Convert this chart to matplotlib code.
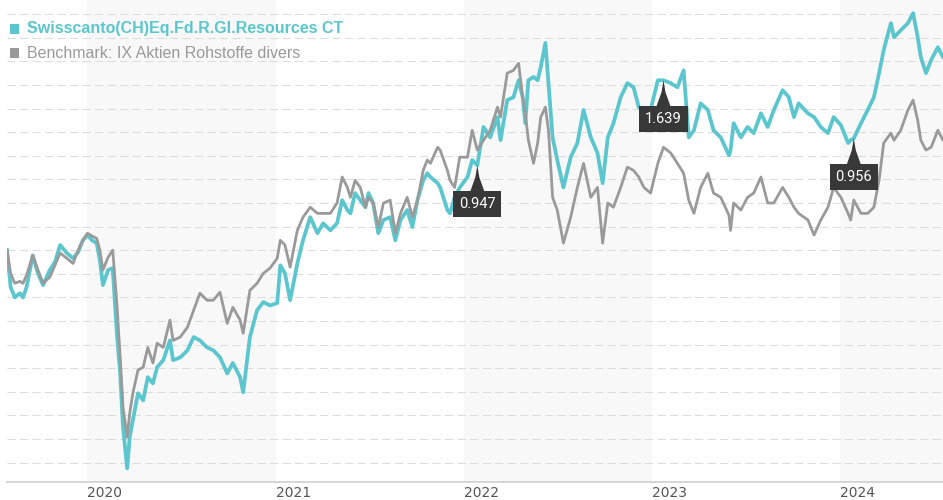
# fund vs benchmark: indexed performance, Jul 2019 - Jul 2024
# -----------------------------------------------------------------------------
import matplotlib
matplotlib.use('Agg')
import matplotlib.pyplot as plt
import matplotlib.transforms as mtransforms
from matplotlib.patches import Polygon, Rectangle
import numpy as np
import pandas as pd

# -----------------------------------------------------------------------------
## --- section_a: data (start = 100) ---
fund_name = 'Swisscanto(CH)Eq.Fd.R.Gl.Resources CT'
bench_name = 'Benchmark: IX Aktien Rohstoffe divers'

dates = [
    '2019-07-30', '2019-08-06', '2019-08-14', '2019-08-24', '2019-08-30', '2019-09-06',
    '2019-09-18', '2019-09-28', '2019-10-08', '2019-10-21', '2019-10-31', '2019-11-10',
    '2019-11-23', '2019-12-05', '2019-12-15', '2019-12-24', '2020-01-02', '2020-01-11',
    '2020-01-20', '2020-01-26', '2020-02-01', '2020-02-11', '2020-02-20', '2020-02-28',
    '2020-03-05', '2020-03-11', '2020-03-19', '2020-03-24', '2020-03-30', '2020-04-09',
    '2020-04-19', '2020-04-28', '2020-05-08', '2020-05-16', '2020-05-28', '2020-06-10',
    '2020-06-16', '2020-06-30', '2020-07-14', '2020-07-26', '2020-08-07', '2020-08-21',
    '2020-09-02', '2020-09-15', '2020-09-29', '2020-10-10', '2020-10-24', '2020-10-30',
    '2020-11-12', '2020-11-26', '2020-12-08', '2020-12-21', '2021-01-04', '2021-01-10',
    '2021-01-19', '2021-01-29', '2021-02-12', '2021-02-23', '2021-03-09', '2021-03-23',
    '2021-04-03', '2021-04-17', '2021-04-30', '2021-05-10', '2021-05-20', '2021-05-26',
    '2021-06-04', '2021-06-14', '2021-06-24', '2021-06-30', '2021-07-09', '2021-07-19',
    '2021-07-29', '2021-08-11', '2021-08-21', '2021-08-31', '2021-09-13', '2021-09-23',
    '2021-10-03', '2021-10-14', '2021-10-22', '2021-10-28', '2021-11-11', '2021-11-16',
    '2021-11-30', '2021-12-05', '2021-12-14', '2021-12-24', '2022-01-08', '2022-01-17',
    '2022-01-27', '2022-02-08', '2022-02-21', '2022-03-07', '2022-03-13', '2022-03-26',
    '2022-04-07', '2022-04-17', '2022-04-25', '2022-04-30', '2022-05-06', '2022-05-16',
    '2022-05-24', '2022-05-30', '2022-06-08', '2022-06-14', '2022-06-22', '2022-07-01',
    '2022-07-13', '2022-07-27', '2022-08-09', '2022-08-21', '2022-09-04', '2022-09-17',
    '2022-09-27', '2022-10-07', '2022-10-18', '2022-11-01', '2022-11-14', '2022-11-26',
    '2022-12-06', '2022-12-16', '2022-12-29', '2023-01-12', '2023-01-23', '2023-02-06',
    '2023-02-19', '2023-03-03', '2023-03-13', '2023-03-23', '2023-04-05', '2023-04-19',
    '2023-04-30', '2023-05-14', '2023-05-30', '2023-06-02', '2023-06-08', '2023-06-22',
    '2023-07-05', '2023-07-17', '2023-07-31', '2023-08-13', '2023-08-25', '2023-09-11',
    '2023-09-23', '2023-10-03', '2023-10-12', '2023-10-30', '2023-11-11', '2023-11-24',
    '2023-12-08', '2023-12-19', '2024-01-02', '2024-01-16', '2024-01-21', '2024-01-27',
    '2024-02-10', '2024-02-23', '2024-03-06', '2024-03-16', '2024-03-25', '2024-04-08',
    '2024-04-14', '2024-04-27', '2024-05-11', '2024-05-21', '2024-05-30', '2024-06-05',
    '2024-06-15', '2024-06-25', '2024-07-08', '2024-07-18']

fund = [
    100.0, 92.2, 90.0, 90.9, 90.0, 92.2, 98.9, 95.1, 92.6, 95.8, 97.5, 101.1,
    99.4, 98.3, 99.6, 102.1, 103.2, 102.1, 101.5, 97.9, 92.6, 95.8, 96.2, 82.4,
    74.6, 62.5, 53.8, 60.4, 64.0, 69.7, 68.2, 73.1, 71.8, 75.2, 76.7, 80.9,
    76.7, 77.3, 78.8, 81.6, 80.9, 79.4, 78.8, 77.3, 73.9, 76.1, 73.1, 69.9,
    81.6, 87.3, 89.0, 88.3, 88.8, 96.8, 95.1, 89.4, 97.2, 102.1, 107.0, 103.6,
    105.7, 104.2, 105.7, 110.6, 108.5, 107.8, 112.1, 110.6, 109.1, 112.1, 110.0, 103.6,
    106.4, 107.0, 102.1, 106.4, 108.5, 104.9, 110.6, 114.8, 116.3, 115.5, 114.2, 113.3,
    108.5, 107.8, 111.2, 113.3, 115.5, 119.1, 118.0, 126.1, 123.9, 128.2, 123.3, 131.8,
    132.4, 136.0, 132.4, 126.9, 136.0, 136.7, 136.0, 138.8, 143.9, 135.4, 123.9, 119.1,
    113.3, 119.7, 122.7, 129.7, 123.9, 120.6, 114.2, 123.9, 126.9, 132.4, 135.4, 134.5,
    130.3, 129.7, 129.7, 136.0, 136.0, 135.4, 134.5, 138.1, 123.9, 125.4, 131.1, 129.7,
    125.4, 123.9, 120.1, 121.2, 126.9, 123.9, 126.1, 124.8, 129.0, 126.1, 129.7, 133.9,
    132.4, 128.2, 131.1, 129.0, 128.2, 126.1, 124.8, 128.2, 126.5, 122.7, 123.3, 123.7,
    126.9, 129.7, 132.4, 137.5, 142.4, 148.1, 145.1, 146.6, 148.1, 150.2, 145.1, 140.9,
    137.5, 140.3, 143.0, 140.9]

bench = [
    100.0, 95.1, 93.0, 93.4, 93.0, 94.7, 98.9, 95.8, 93.0, 94.3, 96.8, 99.4,
    98.3, 97.2, 100.0, 102.1, 103.6, 103.0, 102.5, 100.0, 95.8, 98.5, 100.0, 88.8,
    78.2, 66.7, 60.4, 65.5, 69.7, 74.6, 75.2, 79.4, 76.1, 80.3, 79.4, 85.2,
    80.9, 81.6, 83.7, 87.3, 90.9, 89.4, 89.4, 91.1, 84.5, 87.9, 85.2, 82.4,
    91.5, 93.0, 95.1, 96.2, 98.3, 102.1, 101.1, 96.4, 104.2, 107.0, 109.1, 107.8,
    107.8, 107.8, 110.0, 115.5, 113.3, 111.2, 114.8, 113.3, 109.1, 111.2, 110.0, 104.9,
    110.0, 110.6, 103.6, 107.8, 111.2, 107.0, 110.6, 116.9, 119.1, 118.4, 121.8, 121.2,
    116.9, 114.8, 113.3, 119.7, 119.7, 125.4, 121.2, 123.3, 125.4, 130.3, 128.2, 137.5,
    138.1, 139.6, 132.4, 129.0, 123.3, 118.4, 122.7, 128.2, 130.3, 125.4, 111.2, 108.5,
    101.5, 107.0, 113.3, 118.4, 111.2, 113.3, 101.5, 110.0, 109.1, 113.3, 117.6, 116.9,
    115.5, 113.3, 112.1, 118.4, 121.8, 120.6, 118.4, 116.3, 110.6, 107.8, 113.3, 116.3,
    112.1, 111.2, 107.4, 104.2, 110.0, 108.5, 111.2, 112.1, 115.5, 110.0, 110.0, 113.3,
    111.2, 109.1, 107.8, 106.4, 103.2, 106.4, 109.1, 113.3, 111.2, 107.8, 106.4, 110.6,
    107.8, 107.8, 109.1, 114.8, 122.7, 124.8, 123.3, 125.4, 129.7, 131.8, 127.5, 123.3,
    121.2, 121.8, 125.4, 123.3]

mark_dates = ['2022-01-27', '2023-01-23', '2024-01-27']  # flags on fund line
mark_labels = ['0.947', '1.639', '0.956']
years = [2020, 2021, 2022, 2023, 2024]
shade_years = [2020, 2022, 2024]

# -----------------------------------------------------------------------------
## --- section_b: style ---
col_fund, col_bench = '#5bc6cd', '#9a9a9a'
col_grid, col_shade, col_flag = '#dddddd', '#f8f8f8', '#383838'

# -----------------------------------------------------------------------------
## --- section_c: figure ---
dt = pd.to_datetime(dates)
fig = plt.figure(figsize=(9.43, 5.0), dpi=100)
ax = fig.add_axes([7/943, 18/500, 936/943, 482/500])
ax.set_xlim(dt[0], dt[-1])
ax.set_ylim(50.9, 153.0)

for yr in shade_years:
    ax.axvspan(pd.Timestamp(f'{yr}-01-01'), pd.Timestamp(f'{yr + 1}-01-01'),
               color=col_shade, lw=0, zorder=0)

ax.set_yticks(np.arange(55, 151, 5))
ax.set_yticklabels([])
ax.tick_params(axis='y', length=0)
ax.grid(axis='y', color=col_grid, lw=0.75, dashes=(8, 4))
ax.set_axisbelow(True)

ax.set_xticks([pd.Timestamp(f'{yr}-01-01') for yr in years])
ax.set_xticklabels([str(yr) for yr in years], fontsize=10, color='#555555',
                   family='DejaVu Sans', ha='left')
ax.tick_params(axis='x', length=0, pad=3)

for side in ('left', 'right', 'top'):
    ax.spines[side].set_visible(False)
ax.spines['bottom'].set_color('#d6d6d6')
ax.spines['bottom'].set_linewidth(1.4)

# lines: benchmark drawn over the fund
ax.plot(dt, fund, color=col_fund, lw=2.7, solid_joinstyle='round', zorder=3)
ax.plot(dt, bench, color=col_bench, lw=2.0, solid_joinstyle='round', zorder=4)

# -----------------------------------------------------------------------------
## --- section_d: flags ---
spike = [(0, 0), (-2, -12), (-7, -26), (7, -26), (2, -12)]  # pixels below the point
for idate, ilabel in zip(mark_dates, mark_labels):
    xd = pd.Timestamp(idate)
    yv = fund[dates.index(idate)]
    trans = mtransforms.ScaledTranslation(
        matplotlib.dates.date2num(xd), yv, ax.transData)
    ax.add_patch(Polygon(spike, closed=True, fc=col_flag, ec='none',
                         transform=trans, clip_on=False, zorder=6))
    ax.annotate(ilabel, xy=(xd, yv), xytext=(0, -39), textcoords='offset pixels',
                ha='center', va='center', color='white', fontsize=10.5,
                family='Roboto', zorder=7,
                bbox=dict(boxstyle='square,pad=0.4', fc=col_flag, ec='none'))

# -----------------------------------------------------------------------------
## --- section_e: legend ---
for iy, icol, itext, iwt in ((29, col_fund, fund_name, 'bold'),
                             (53, col_bench, bench_name, 'normal')):
    fig.add_artist(Rectangle((10/943, 1 - (iy + 4.5)/500), 9/943, 9/500,
                             transform=fig.transFigure, fc=icol, ec='none'))
    fig.text(27/943, 1 - iy/500, itext, color=icol, fontsize=11.5,
             fontweight=iwt, family='Liberation Sans', va='center', ha='left')

fig.savefig('out.png', dpi=100)
